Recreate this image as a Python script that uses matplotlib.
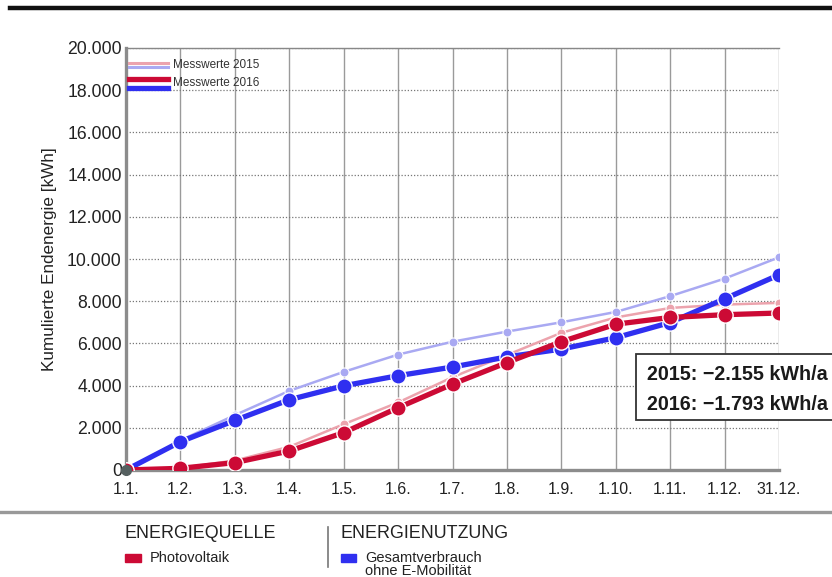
import matplotlib
matplotlib.use("Agg")
import matplotlib.pyplot as plt
from matplotlib.patches import Rectangle
from matplotlib.lines import Line2D

plt.rcParams['font.family'] = ['Liberation Sans', 'DejaVu Sans']

months = ["1.1.", "1.2.", "1.3.", "1.4.", "1.5.", "1.6.", "1.7.", "1.8.", "1.9.",
          "1.10.", "1.11.", "1.12.", "31.12."]
pv_2015 = [0, 100, 450, 1100, 2170, 3200, 4400, 5450, 6500, 7230, 7680, 7840, 7920]
pv_2016 = [0, 80, 350, 900, 1770, 2950, 4070, 5090, 6080, 6910, 7230, 7360, 7440]
use_2015 = [0, 1400, 2600, 3750, 4650, 5470, 6080, 6560, 7000, 7490, 8240, 9070, 10080]
use_2016 = [0, 1340, 2350, 3330, 3990, 4470, 4880, 5360, 5730, 6270, 6990, 8110, 9250]
y_ticks = [0, 2000, 4000, 6000, 8000, 10000, 12000, 14000, 16000, 18000, 20000]
y_tick_labels = ["0", "2.000", "4.000", "6.000", "8.000", "10.000", "12.000",
                 "14.000", "16.000", "18.000", "20.000"]
box_lines = ["2015: \u22122.155 kWh/a", "2016: \u22121.793 kWh/a"]

RED = "#cc0a35"
BLUE = "#2f2ff0"
PINK = "#eca3ad"
LBLUE = "#a9a9f2"

fig = plt.figure(figsize=(8.32, 5.77), dpi=100)
W, H = 832, 577

def fx(px):
    return px / W

def fy(py):
    return 1 - py / H

ax = fig.add_axes([fx(126), fy(470), fx(779) - fx(126), fy(48) - fy(470)])
x = list(range(len(months)))

ax.plot(x, pv_2015, color=PINK, lw=1.8, marker='o', ms=6.5, mec='white', mew=0.8, zorder=3)
ax.plot(x, use_2015, color=LBLUE, lw=1.8, marker='o', ms=6.5, mec='white', mew=0.8, zorder=3)
ax.plot(x, use_2016, color=BLUE, lw=3.8, marker='o', ms=11, mec='white', mew=1.0, zorder=4)
ax.plot(x, pv_2016, color=RED, lw=3.8, marker='o', ms=11, mec='white', mew=1.0, zorder=5)
ax.plot([x[0]], [pv_2016[0]], marker='o', ms=7, color='#556060', zorder=6, clip_on=False)

ax.set_xlim(0, len(months) - 1)
ax.set_ylim(0, 20000)
ax.set_xticks(x)
ax.set_xticklabels(months, fontsize=11.5, color='#222222')
ax.set_yticks(y_ticks)
ax.set_yticklabels(y_tick_labels, fontsize=12.7, color='#222222')
ax.tick_params(axis='x', length=0, pad=9)
ax.tick_params(axis='y', length=0, pad=3)
ax.set_ylabel("Kumulierte Endenergie [kWh]", fontsize=12.3, color='#222222', labelpad=7)

ax.grid(axis='x', color='#9a9a9a', lw=1.0, ls='-', zorder=1)
ax.grid(axis='y', color='#777777', lw=0.9, ls=(0, (1, 1.5)), zorder=1)
ax.set_axisbelow(True)

for s in ['left', 'bottom']:
    ax.spines[s].set_color('#8c8c8c')
    ax.spines[s].set_linewidth(2.4)
ax.spines['top'].set_color('#888888')
ax.spines['top'].set_linewidth(1.0)
ax.spines['right'].set_visible(False)

# legend (top-left inside axes)
legend_handles = [
    (PINK, LBLUE, 2.2, 63, 67),
    (RED, BLUE, 3.8, 79, 88),
]
leg_labels = ["Messwerte 2015", "Messwerte 2016"]
leg_text_y = [65, 83]
for (c1, c2, lw, y1, y2), lab, ty in zip(legend_handles, leg_labels, leg_text_y):
    fig.add_artist(Line2D([fx(129), fx(168)], [fy(y1), fy(y1)], color=c1, lw=lw))
    fig.add_artist(Line2D([fx(129), fx(168)], [fy(y2), fy(y2)], color=c2, lw=lw))
    fig.text(fx(173), fy(ty), lab, fontsize=8.5, color='#333333', va='center', ha='left')

# annotation box (extends past the right edge, like the original)
fig.add_artist(Rectangle((fx(636), fy(420)), fx(220), fy(354) - fy(420),
                         fc='white', ec='#333333', lw=1.3, zorder=10))
fig.text(fx(647), fy(375), box_lines[0], fontsize=14.2, fontweight='bold',
         color='#1a1a1a', va='center', ha='left', zorder=11)
fig.text(fx(647), fy(405), box_lines[1], fontsize=14.2, fontweight='bold',
         color='#1a1a1a', va='center', ha='left', zorder=11)

# top black bar
fig.add_artist(Line2D([fx(10), fx(832)], [fy(8), fy(8)], color='#111111', lw=3.2))
# bottom separator
fig.add_artist(Line2D([fx(0), fx(832)], [fy(512), fy(512)], color='#999999', lw=2.4))

# bottom legend
fig.text(fx(125), fy(534), "ENERGIEQUELLE", fontsize=12.9, color='#222222', va='center', ha='left')
fig.add_artist(Rectangle((fx(125), fy(562)), fx(16), fy(554) - fy(562), color=RED))
fig.text(fx(150), fy(558), "Photovoltaik", fontsize=10.5, color='#222222', va='center', ha='left')

fig.add_artist(Line2D([fx(328), fx(328)], [fy(527), fy(567)], color='#777777', lw=1.2))
fig.text(fx(341), fy(534), "ENERGIENUTZUNG", fontsize=12.9, color='#222222', va='center', ha='left')
fig.add_artist(Rectangle((fx(341), fy(562)), fx(15), fy(554) - fy(562), color=BLUE))
fig.text(fx(365), fy(564.5), "Gesamtverbrauch\nohne E-Mobilität", fontsize=10.5, color='#222222',
         va='center', ha='left', linespacing=0.92)

fig.savefig("out.png", dpi=100)
